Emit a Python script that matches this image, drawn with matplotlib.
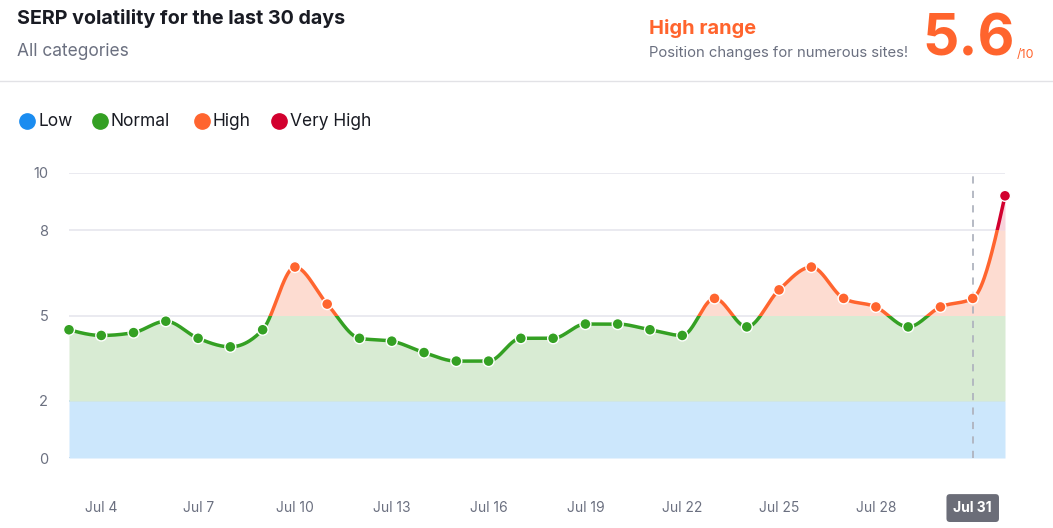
import numpy as np
import matplotlib
matplotlib.use("Agg")
import matplotlib.pyplot as plt
from matplotlib.patches import Rectangle
from matplotlib.lines import Line2D

plt.rcParams['font.family'] = ['Inter', 'DejaVu Sans']

# ---------------- data ----------------
dates = ["Jul 3", "Jul 4", "Jul 5", "Jul 6", "Jul 7", "Jul 8", "Jul 9", "Jul 10",
         "Jul 11", "Jul 12", "Jul 13", "Jul 14", "Jul 15", "Jul 16", "Jul 17",
         "Jul 18", "Jul 19", "Jul 20", "Jul 21", "Jul 22", "Jul 23", "Jul 24",
         "Jul 25", "Jul 26", "Jul 27", "Jul 28", "Jul 29", "Jul 30", "Jul 31", "Aug 1"]
values = [4.5, 4.3, 4.4, 4.8, 4.2, 3.9, 4.5, 6.7, 5.4, 4.2, 4.1, 3.7, 3.4, 3.4, 4.2,
          4.2, 4.7, 4.7, 4.5, 4.3, 5.6, 4.6, 5.9, 6.7, 5.6, 5.3, 4.6, 5.3, 5.6, 9.2]
tick_labels = ["Jul 4", "Jul 7", "Jul 10", "Jul 13", "Jul 16", "Jul 19",
               "Jul 22", "Jul 25", "Jul 28", "Jul 31"]
selected_date = "Jul 31"
band_edges = [0, 2, 5, 8, 10]
band_names = ["Low", "Normal", "High", "Very High"]
yticks = [0, 2, 5, 8, 10]

line_colors = ["#1a8cf0", "#34a023", "#ff652f", "#d2002e"]
fill_colors = ["#cce7fc", "#d8ebd3", "#fddcd1", "#f8d2db"]

# ---------------- monotone cubic (d3 monotoneX style) ----------------
def monotone(x, y, n=40):
    x = np.asarray(x, float); y = np.asarray(y, float)
    h = np.diff(x); s = np.diff(y) / h
    m = np.zeros_like(y)
    for i in range(1, len(y) - 1):
        p = (s[i-1] * h[i] + s[i] * h[i-1]) / (h[i-1] + h[i])
        m[i] = (np.sign(s[i-1]) + np.sign(s[i])) * min(abs(s[i-1]), abs(s[i]), 0.5 * abs(p))
    m[0] = (3 * s[0] - m[1]) / 2
    m[-1] = (3 * s[-1] - m[-2]) / 2
    xs, ys = [], []
    for i in range(len(y) - 1):
        t = np.linspace(0, 1, n, endpoint=(i == len(y) - 2))
        h00 = 2*t**3 - 3*t**2 + 1; h10 = t**3 - 2*t**2 + t
        h01 = -2*t**3 + 3*t**2; h11 = t**3 - t**2
        xs.append(x[i] + t * h[i])
        ys.append(h00*y[i] + h10*h[i]*m[i] + h01*y[i+1] + h11*h[i]*m[i+1])
    return np.concatenate(xs), np.concatenate(ys)

W, H = 1053, 528
fig = plt.figure(figsize=(W/100, H/100), dpi=100)
fig.patch.set_facecolor("white")

x = np.arange(len(values))
xs, ys = monotone(x, values)

ax = fig.add_axes([69/W, 1 - 458/H, (1005-69)/W, (458-173)/H])
ax.set_xlim(0, len(values) - 1)
ax.set_ylim(0, 10)

# grid lines
for yv in yticks:
    col = "#e6e6ee"
    if yv == 0:
        col = "#b5cbe2"
    elif yv == 2:
        col = "#b8d8f2"
    ax.axhline(yv, color=col, lw=1.2, zorder=1)

# fills per band
for i in range(4):
    lo, hi = band_edges[i], band_edges[i+1]
    ax.fill_between(xs, lo, np.clip(ys, lo, hi), color=fill_colors[i], lw=0, zorder=2)

# selected dashed line
sel = dates.index(selected_date)
ax.axvline(sel, color="#b0b4bf", lw=1.3, ls=(0, (4, 4)), zorder=3)

# line colored by band via clip
for i in range(4):
    lo, hi = band_edges[i], band_edges[i+1]
    if i == 3:
        hi = 20
    ln, = ax.plot(xs, ys, color=line_colors[i], lw=2.5, zorder=4, solid_capstyle='round')
    rect = Rectangle((-1, lo), len(values) + 2, hi - lo, transform=ax.transData)
    ln.set_clip_path(rect)

# markers
mcols = []
for v in values:
    k = np.searchsorted(band_edges[1:], v, side='right')
    mcols.append(line_colors[min(k, 3)])
ax.scatter(x, values, s=62, c=mcols, edgecolors="white", linewidths=1.0, zorder=5, clip_on=False)

for sp in ax.spines.values():
    sp.set_visible(False)
ax.set_yticks(yticks)
ax.set_yticklabels([str(v) for v in yticks])
tick_idx = [dates.index(t) for t in tick_labels]
ax.set_xticks(tick_idx)
ax.set_xticklabels(tick_labels)
ax.tick_params(axis='y', length=0, pad=15, labelsize=10.5, labelcolor="#6b7080")
ax.tick_params(axis='x', length=0, pad=31, labelsize=10, labelcolor="#6b7080")
for lab in ax.get_xticklabels():
    if lab.get_text() == selected_date:
        lab.set_color("white")
        lab.set_fontweight("bold")
        lab.set_bbox(dict(boxstyle="round,pad=0.5,rounding_size=0.25", fc="#6b6d78", ec="none"))

# header
fig.text(17/W, 1 - 19/H, "SERP volatility for the last 30 days", fontsize=14.2,
         fontweight="bold", color="#191b23", va="center", ha="left")
fig.text(17/W, 1 - 52/H, "All categories", fontsize=12.5, color="#6b7080", va="center", ha="left")
fig.text(649/W, 1 - 29/H, "High range", fontsize=14.4, fontweight="bold", color="#ff642d",
         va="center", ha="left")
fig.text(649/W, 1 - 53/H, "Position changes for numerous sites!", fontsize=10.7,
         color="#6b7080", va="center", ha="left")
fig.text(1015/W, 1 - 41/H, "5.6", fontsize=41, fontweight="bold", color="#ff642d",
         va="center", ha="right")
fig.text(1017/W, 1 - 55/H, "/10", fontsize=9, color="#ff642d", va="center", ha="left")
fig.add_artist(Line2D([0, 1], [1 - 81/H, 1 - 81/H], transform=fig.transFigure,
                      color="#e2e2e6", lw=1))

# legend
leg_x = [27, 100, 202, 279]
for i, name in enumerate(band_names):
    fig.add_artist(Line2D([leg_x[i]/W], [1 - 121/H], marker='o', markersize=11,
                          color=line_colors[i], transform=fig.transFigure, lw=0))
    fig.text((leg_x[i] + 11)/W, 1 - 122/H, name, fontsize=12.5, color="#191b23",
             va="center", ha="left")

fig.savefig("out.png", dpi=100, facecolor="white")
